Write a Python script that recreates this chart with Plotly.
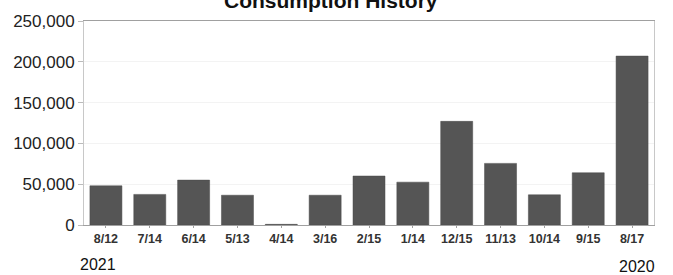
import plotly.graph_objects as go

categories = ["8/12", "7/14", "6/14", "5/13", "4/14", "3/16", "2/15", "1/14",
              "12/15", "11/13", "10/14", "9/15", "8/17"]
consumption = [48000, 37500, 55000, 36500, 800, 36500, 60000, 52500,
               127000, 75500, 37000, 64000, 207000]
y_ticks = [0, 50000, 100000, 150000, 200000, 250000]
title_text = "Consumption History"
start_year = "2021"
end_year = "2020"

fig = go.Figure()
fig.add_trace(go.Bar(
    x=categories, y=consumption,
    marker=dict(color="#555555", line=dict(color="#4a4a4a", width=0.5)),
    hoverinfo="x+y",
))

W, H = 673, 275
L, R, T, B = 84, 19, 15, 50
pw, ph = W - L - R, H - T - B

def px_x(x):
    return (x - L) / pw

def px_y(y):
    return (H - B - y) / ph

fig.update_layout(
    width=W, height=H,
    margin=dict(l=L, r=R, t=T, b=B, pad=0),
    paper_bgcolor="white", plot_bgcolor="white",
    bargap=0.27,
    showlegend=False,
    font=dict(family="Liberation Sans, Arial, sans-serif", color="#222222"),
    xaxis=dict(
        type="category",
        showline=True, linecolor="#a0a0a0", linewidth=1, mirror=True,
        ticks="outside", ticklen=2, tickcolor="#a0a0a0",
        tickfont=dict(size=12.5, weight="bold", color="#333333"),
        showgrid=False,
    ),
    yaxis=dict(
        range=[0, 250000],
        tickvals=y_ticks,
        tickformat=",",
        showline=True, linecolor="#c8c8c8", linewidth=1, mirror=True,
        ticks="outside", ticklen=5, tickcolor="#bbbbbb",
        tickfont=dict(size=17, color="#222222"),
        showgrid=True, gridcolor="#f3f3f3",
        zeroline=False,
    ),
    annotations=[
        dict(text="<b>" + title_text + "</b>", xref="paper", yref="paper",
             x=px_x(331), y=1, xanchor="center", yanchor="bottom", yshift=7,
             showarrow=False, font=dict(size=21, color="#111111")),
        dict(text=start_year, xref="paper", yref="paper",
             x=px_x(78), y=px_y(266), xanchor="left", yanchor="middle",
             showarrow=False, font=dict(size=16, color="#111111")),
        dict(text=end_year, xref="paper", yref="paper",
             x=px_x(657), y=px_y(267.5), xanchor="right", yanchor="middle",
             showarrow=False, font=dict(size=16, color="#111111")),
    ],
)

fig.write_html(
    "out.html",
    config={"displayModeBar": False},
    post_script="document.body.style.margin='0';document.body.style.overflow='hidden';",
)
